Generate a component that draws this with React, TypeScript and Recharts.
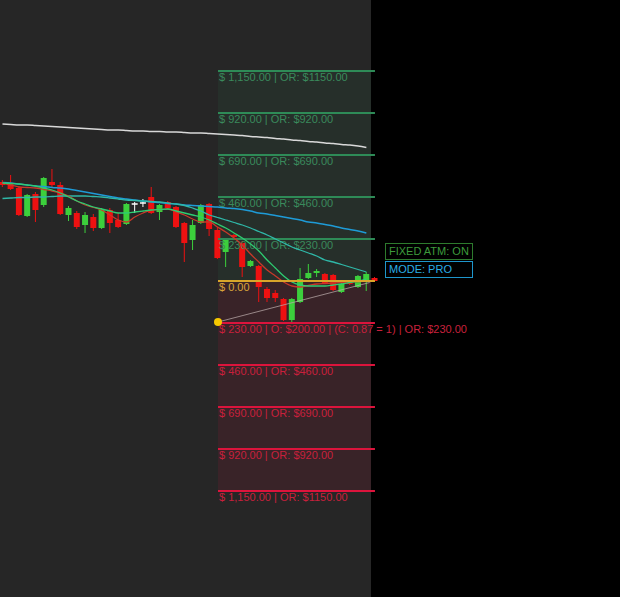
import { Bar, ComposedChart, Line, ReferenceArea, ReferenceDot, ReferenceLine, XAxis, YAxis } from "recharts";

// candles (price units), index = bar number
const opens = [41.8, 41.7, 41.2, 38.4, 40.6, 39.5, 41.8, 41.5, 38.5, 38.7, 37.5, 38.3, 37.2, 39.0, 38.0, 37.6, 39.6, 39.7, 40.3, 38.8, 39.8, 39.3, 37.7, 36.0, 37.7, 39.6, 37.0, 34.8, 36.5, 35.7, 33.4, 33.4, 31.1, 30.7, 30.1, 28.0, 29.8, 32.2, 32.7, 32.6, 32.5, 30.8, 31.9, 31.3, 32.0, 32.2];
const highs = [42.0, 42.5, 41.4, 40.6, 40.8, 42.3, 43.1, 41.8, 39.4, 38.9, 38.8, 38.6, 39.2, 39.2, 38.7, 39.7, 39.8, 40.1, 41.3, 39.6, 39.9, 39.4, 37.8, 38.0, 39.6, 39.7, 37.3, 36.2, 36.6, 35.9, 34.0, 33.5, 31.3, 31.0, 30.2, 30.2, 33.2, 33.6, 33.1, 32.7, 32.6, 31.8, 32.0, 32.5, 32.8, 32.3];
const lows = [41.3, 41.0, 38.4, 38.3, 37.8, 39.3, 41.3, 38.5, 37.9, 37.1, 36.7, 36.9, 37.1, 36.7, 37.2, 37.5, 38.7, 39.3, 38.6, 38.0, 39.1, 37.2, 33.8, 35.0, 37.6, 36.4, 34.1, 33.3, 36.2, 32.3, 33.3, 29.8, 29.8, 29.8, 27.9, 27.7, 29.7, 32.1, 32.3, 31.6, 30.9, 30.7, 31.5, 31.2, 30.9, 31.8];
const closes = [41.5, 41.1, 38.5, 40.5, 39.0, 42.2, 41.5, 38.6, 39.2, 37.3, 38.5, 37.2, 39.1, 37.7, 37.3, 39.6, 39.6, 39.7, 38.7, 39.5, 39.2, 37.3, 35.7, 37.5, 39.5, 37.1, 34.2, 36.0, 36.3, 33.3, 33.9, 31.3, 30.2, 30.2, 28.0, 30.1, 32.1, 32.7, 32.9, 31.7, 31.0, 31.6, 31.6, 32.4, 32.6, 31.9];

// moving averages
const maSlow = [47.6, 47.55, 47.5, 47.5, 47.45, 47.4, 47.35, 47.3, 47.25, 47.2, 47.15, 47.1, 47.05, 47.0, 47.0, 46.95, 46.9, 46.9, 46.85, 46.85, 46.8, 46.8, 46.75, 46.7, 46.7, 46.65, 46.6, 46.55, 46.5, 46.45, 46.35, 46.3, 46.25, 46.15, 46.1, 46.0, 45.95, 45.85, 45.8, 45.7, 45.65, 45.55, 45.5, 45.4, 45.25];
const maBlue = [41.75, 41.7, 41.6, 41.5, 41.4, 41.35, 41.25, 41.2, 41.1, 40.95, 40.8, 40.65, 40.5, 40.35, 40.2, 40.1, 40.0, 39.9, 39.8, 39.75, 39.65, 39.6, 39.5, 39.45, 39.4, 39.35, 39.3, 39.2, 39.15, 39.05, 38.9, 38.7, 38.6, 38.45, 38.3, 38.15, 38.0, 37.8, 37.7, 37.55, 37.4, 37.2, 37.05, 36.9, 36.7];
const maTeal = [40.15, 40.2, 40.25, 40.25, 40.3, 40.3, 40.35, 40.4, 40.4, 40.4, 40.4, 40.35, 40.3, 40.2, 40.1, 40.0, 39.95, 39.9, 39.85, 39.8, 39.7, 39.6, 39.45, 39.2, 38.9, 38.5, 38.25, 38.0, 37.75, 37.5, 37.2, 36.85, 36.5, 36.1, 35.7, 35.3, 35.0, 34.7, 34.4, 34.0, 33.8, 33.55, 33.3, 33.05, 32.8];
const maGreen = [41.7, 41.65, 41.6, 41.5, 41.4, 41.2, 41.0, 40.7, 40.3, 39.9, 39.6, 39.3, 39.1, 38.9, 38.7, 38.7, 38.8, 38.9, 39.0, 39.05, 39.1, 38.9, 38.7, 38.5, 38.3, 38.0, 37.6, 37.2, 36.7, 36.2, 35.6, 34.9, 34.0, 33.2, 32.4, 31.8, 31.5, 31.4, 31.4, 31.4, 31.5, 31.6, 31.75, 31.9, 32.1];
const maRed = [41.7, 41.5, 41.3, 41.25, 41.2, 41.05, 40.9, 40.7, 40.4, 39.9, 39.5, 39.25, 39.0, 38.5, 38.0, 37.8, 38.3, 38.7, 39.0, 39.05, 39.1, 38.8, 38.5, 38.1, 37.8, 37.8, 37.3, 36.8, 36.2, 35.5, 34.6, 33.8, 33.0, 32.4, 31.8, 31.4, 31.3, 31.45, 31.6, 31.65, 31.7, 31.75, 31.8, 31.85, 31.9];

// order levels
const profitLevels = [52.9, 48.7, 44.5, 40.3, 36.1];
const profitLabels = ["$ 1,150.00 | OR: $1150.00", "$ 920.00 | OR: $920.00", "$ 690.00 | OR: $690.00", "$ 460.00 | OR: $460.00", "$ 230.00 | OR: $230.00"];
const entryLevel = 31.9;
const entryLabel = "$ 0.00";
const lossLevels = [27.7, 23.5, 19.3, 15.1, 10.9];
const lossLabels = ["$ 230.00 | O: $200.00 | (C: 0.87 = 1) | OR: $230.00", "$ 460.00 | OR: $460.00", "$ 690.00 | OR: $690.00", "$ 920.00 | OR: $920.00", "$ 1,150.00 | OR: $1150.00"];
const stopPoint = { x: 26.06, y: 27.8 };
const trendEnd = { x: 44.4, y: 31.75 };

const BAND_START = 26.06;
const BAND_END = 45.04;
const PLOT_END = 44.56;
const FONT = "'Liberation Sans', Arial, sans-serif";

const data = opens.map((open, i) => ({
  i,
  open,
  high: highs[i],
  low: lows[i],
  close: closes[i],
  maSlow: maSlow[i],
  maBlue: maBlue[i],
  maTeal: maTeal[i],
  maGreen: maGreen[i],
  maRed: maRed[i]
}));

function Candle(props: any) {
  const { x, y, width, height, payload } = props;
  if (!payload || height == null) return null;
  const { open, close, high, low } = payload;
  const ppu = height / (high - low);
  const top = y + (high - Math.max(open, close)) * ppu;
  const bottom = y + (high - Math.min(open, close)) * ppu;
  const color = open === close ? "#ffffff" : close > open ? "#3ccf3c" : "#ee1111";
  const cx = x + width / 2;
  return (
    <g>
      <line x1={cx} x2={cx} y1={y} y2={y + height} stroke={color} strokeWidth={1} />
      {open === close ? (
        <line x1={x} x2={x + width} y1={top} y2={top} stroke={color} strokeWidth={1.5} />
      ) : (
        <rect x={x} y={top} width={width} height={Math.max(1, bottom - top)} fill={color} />
      )}
    </g>
  );
}

function levelLabel(text: string, color: string) {
  return (props: any) => {
    const vb = props.viewBox || {};
    const x = vb.x ?? vb.x1 ?? 0;
    const y = vb.y ?? vb.y1 ?? 0;
    return (
      <text x={x + 1} y={y + 10} fill={color} fontSize={11} fontFamily={FONT}>
        {text}
      </text>
    );
  };
}

export default function App() {
  return (
    <div style={{ position: "absolute", left: 0, top: 0, width: 620, height: 597, background: "#000", overflow: "hidden" }}>
      <div style={{ position: "absolute", left: 0, top: 0, width: 371, height: 597, background: "#262626" }} />
      <div style={{ position: "absolute", left: 0, top: 0 }}>
        <ComposedChart width={620} height={597} data={data} margin={{ top: 0, right: 0, bottom: 0, left: 0 }}>
          <XAxis dataKey="i" type="number" domain={[-0.3, 74.67]} hide allowDataOverflow />
          <YAxis type="number" domain={[0.3, 60]} hide allowDataOverflow />
          <ReferenceArea x1={BAND_START} x2={PLOT_END} y1={entryLevel} y2={profitLevels[0]} fill="#2e8b57" fillOpacity={0.09} stroke="none" />
          <ReferenceArea x1={BAND_START} x2={PLOT_END} y1={lossLevels[4]} y2={entryLevel} fill="#dc143c" fillOpacity={0.11} stroke="none" />
          {profitLevels.map((lv, k) => (
            <ReferenceLine
              key={"p" + k}
              segment={[{ x: BAND_START, y: lv }, { x: BAND_END, y: lv }]}
              stroke="#2e8b57"
              strokeWidth={2}
              label={levelLabel(profitLabels[k], "#3a8a5c")}
            />
          ))}
          {lossLevels.map((lv, k) => (
            <ReferenceLine
              key={"l" + k}
              segment={[{ x: BAND_START, y: lv }, { x: BAND_END, y: lv }]}
              stroke="#dc143c"
              strokeWidth={2}
              label={levelLabel(lossLabels[k], "#c8203c")}
            />
          ))}
          <Bar dataKey={(d: any) => [d.low, d.high]} barSize={6} shape={Candle} isAnimationActive={false} />
          <Line dataKey="maSlow" stroke="#d9d9d9" strokeWidth={1.5} dot={false} activeDot={false} type="monotone" isAnimationActive={false} />
          <Line dataKey="maBlue" stroke="#1e9bd7" strokeWidth={1.5} dot={false} activeDot={false} type="monotone" isAnimationActive={false} />
          <Line dataKey="maTeal" stroke="#2fb8a8" strokeWidth={1.3} dot={false} activeDot={false} type="monotone" isAnimationActive={false} />
          <Line dataKey="maRed" stroke="#c8382a" strokeWidth={1.3} dot={false} activeDot={false} type="monotone" isAnimationActive={false} />
          <Line dataKey="maGreen" stroke="#2ecc71" strokeWidth={1.3} dot={false} activeDot={false} type="monotone" isAnimationActive={false} />
          <ReferenceLine
            segment={[{ x: BAND_START, y: entryLevel }, { x: BAND_END, y: entryLevel }]}
            stroke="#d9a52a"
            strokeWidth={2}
            label={levelLabel(entryLabel, "#d9a53a")}
          />
          <ReferenceLine segment={[stopPoint, trendEnd]} stroke="#b8a8a8" strokeOpacity={0.75} strokeWidth={1} />
          <ReferenceDot x={stopPoint.x} y={stopPoint.y} r={4} fill="#f5c800" stroke="none" />
        </ComposedChart>
      </div>
      <div style={{ position: "absolute", left: 385, top: 243, width: 88, height: 17, boxSizing: "border-box", border: "1px solid #2d7a2d", color: "#3d9a3d", fontFamily: FONT, fontSize: 11, lineHeight: "15px", paddingLeft: 3 }}>
        FIXED ATM: ON
      </div>
      <div style={{ position: "absolute", left: 385, top: 261, width: 88, height: 17, boxSizing: "border-box", border: "1px solid #1e96cc", color: "#2aaee6", fontFamily: FONT, fontSize: 11, lineHeight: "15px", paddingLeft: 3 }}>
        MODE: PRO
      </div>
    </div>
  );
}
